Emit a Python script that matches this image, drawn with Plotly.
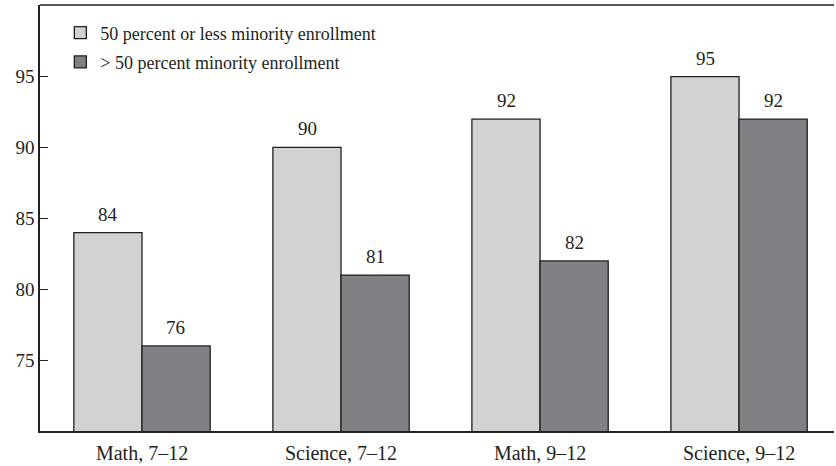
import plotly.graph_objects as go

categories = ["Math, 7\u201312", "Science, 7\u201312", "Math, 9\u201312", "Science, 9\u201312"]
low_minority = [84, 90, 92, 95]
high_minority = [76, 81, 82, 92]
series_names = ["50 percent or less minority enrollment", "> 50 percent minority enrollment"]
y_ticks = [75, 80, 85, 90, 95]

FONT = "'Liberation Serif', 'DejaVu Serif', serif"
INK = "#231f20"
colors = ["#d1d2d4", "#808184"]

fig = go.Figure()
for k, (name, vals, col) in enumerate(zip(series_names, [low_minority, high_minority], colors)):
    fig.add_trace(go.Bar(
        x=list(range(len(categories))), y=vals, name=name, legendgroup=f"g{k}",
        marker=dict(color=col, line=dict(color=INK, width=1.3)),
    ))

# value labels above each bar
offsets = [-0.1707, 0.1707]
for off, vals in zip(offsets, [low_minority, high_minority]):
    for i, v in enumerate(vals):
        fig.add_annotation(x=i + off, y=v, text=str(v), showarrow=False,
                           yanchor="bottom", yshift=6,
                           font=dict(family=FONT, size=19, color=INK))

# top edge of the frame
fig.add_shape(type="line", xref="paper", yref="paper", x0=0, x1=1, y0=1, y1=1,
              line=dict(color=INK, width=1.5))

fig.update_layout(
    width=836, height=466,
    margin=dict(l=40, r=2, t=5, b=33),
    paper_bgcolor="white", plot_bgcolor="white",
    barmode="group", bargap=0.315, bargroupgap=0,
    font=dict(family=FONT, size=18, color=INK),
    showlegend=True,
    legend=dict(x=0.0256, y=0.978, xanchor="left", yanchor="top",
                bgcolor="rgba(0,0,0,0)", itemwidth=30,
                font=dict(family=FONT, size=18, color=INK),
                tracegroupgap=3),
    xaxis=dict(range=[-0.5126, 3.477], tickvals=list(range(len(categories))),
               ticktext=categories, showline=True, mirror=False,
               linecolor=INK, linewidth=1.5, ticks="", showgrid=False,
               zeroline=False, ticklabelstandoff=3,
               tickfont=dict(family=FONT, size=20, color=INK)),
    yaxis=dict(range=[70, 100.05], tickvals=y_ticks, showline=True,
               linecolor=INK, linewidth=1.5, ticks="inside", ticklen=8,
               tickwidth=1.3, tickcolor=INK, showgrid=False, zeroline=False,
               tickfont=dict(family=FONT, size=19, color=INK)),
)

fig.write_html("out.html", config={"displayModeBar": False})
